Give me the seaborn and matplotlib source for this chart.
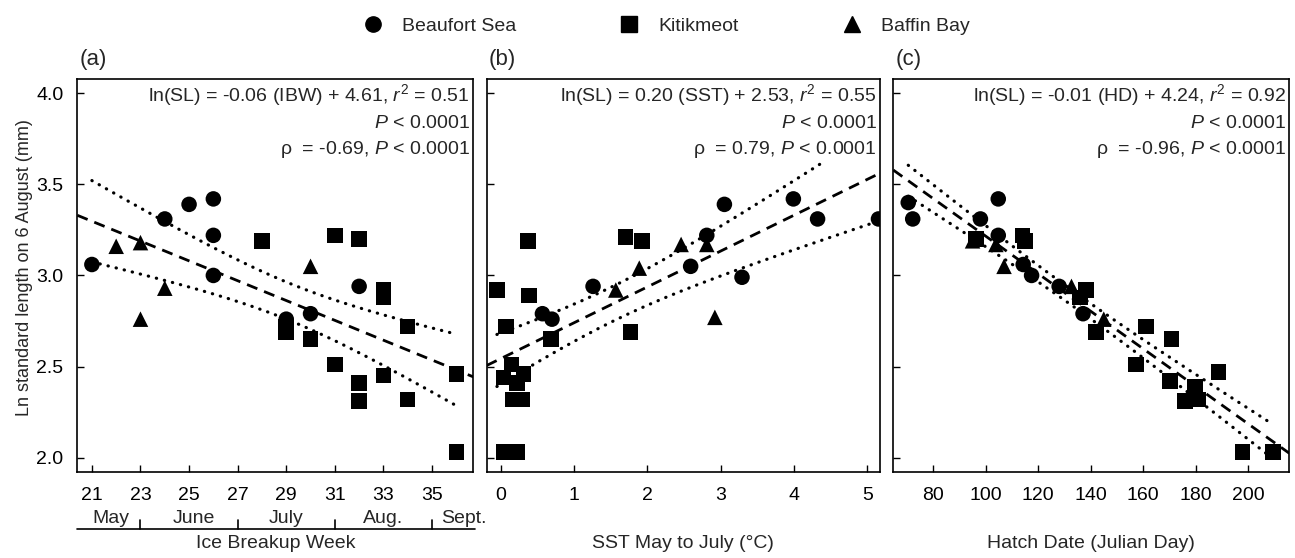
import numpy as np
import pandas as pd
import seaborn as sns
import matplotlib.pyplot as plt
import matplotlib.transforms as mtransforms
from matplotlib.lines import Line2D

# ---- data (ln standard length, mm) ----
# (a) ice breakup week
beaufort_ibw = [21, 24, 25, 26, 26, 26, 29, 30, 32]
beaufort_sl_a = [3.06, 3.31, 3.39, 3.42, 3.22, 3.00, 2.76, 2.79, 2.94]
kitikmeot_ibw = [28, 31, 32, 33, 33, 34, 29, 29, 30, 31, 32, 32, 33, 34, 36, 36]
kitikmeot_sl_a = [3.19, 3.22, 3.20, 2.92, 2.88, 2.72, 2.72, 2.69, 2.65, 2.51, 2.41, 2.31, 2.45, 2.32, 2.46, 2.03]
baffin_ibw = [22, 23, 24, 23, 30]
baffin_sl_a = [3.16, 3.18, 2.93, 2.76, 3.05]

# (b) SST May to July
beaufort_sst = [0.57, 0.70, 1.26, 2.59, 2.81, 3.05, 3.29, 3.99, 4.32, 5.15]
beaufort_sl_b = [2.79, 2.76, 2.94, 3.05, 3.22, 3.39, 2.99, 3.42, 3.31, 3.31]
kitikmeot_sst = [0.37, -0.05, 0.39, 0.07, 0.69, 1.70, 1.93, 1.77, 0.15, 0.04, 0.31, 0.22, 0.17, 0.29, 0.04, 0.23]
kitikmeot_sl_b = [3.19, 2.92, 2.89, 2.72, 2.65, 3.21, 3.19, 2.69, 2.51, 2.44, 2.46, 2.41, 2.32, 2.32, 2.03, 2.03]
baffin_sst = [1.57, 1.89, 2.46, 2.81, 2.92]
baffin_sl_b = [2.92, 3.04, 3.17, 3.17, 2.77]

# (c) hatch date
beaufort_hd = [70.5, 72.2, 98.0, 104.8, 104.8, 114.3, 117.5, 128.0, 137.1]
beaufort_sl_c = [3.40, 3.31, 3.31, 3.42, 3.22, 3.06, 3.00, 2.94, 2.79]
kitikmeot_hd = [96.3, 114.0, 115.0, 138.2, 136.0, 142.0, 161.0, 170.8, 157.2, 170.2, 179.7, 176.0, 181.0, 188.8, 197.9, 209.5]
kitikmeot_sl_c = [3.20, 3.22, 3.19, 2.92, 2.88, 2.69, 2.72, 2.65, 2.51, 2.42, 2.39, 2.31, 2.32, 2.47, 2.03, 2.03]
baffin_hd = [95.0, 103.9, 107.0, 132.7, 145.0]
baffin_sl_c = [3.19, 3.17, 3.05, 2.94, 2.76]

regions = ["Beaufort Sea", "Kitikmeot", "Baffin Bay"]
markers = {"Beaufort Sea": "o", "Kitikmeot": "s", "Baffin Bay": "^"}

stats_a = ["ln(SL) = -0.06 (IBW) + 4.61, $r^2$ = 0.51", "$P$ < 0.0001", "ρ  = -0.69, $P$ < 0.0001"]
stats_b = ["ln(SL) = 0.20 (SST) + 2.53, $r^2$ = 0.55", "$P$ < 0.0001", "ρ  = 0.79, $P$ < 0.0001"]
stats_c = ["ln(SL) = -0.01 (HD) + 4.24, $r^2$ = 0.92", "$P$ < 0.0001", "ρ  = -0.96, $P$ < 0.0001"]

months = ["May", "June", "July", "Aug.", "Sept."]
month_pos = [21.8, 25.2, 29.0, 33.0, 36.3]
month_breaks = [23, 27, 31, 35]


def make_df(bx, by, kx, ky, fx, fy):
    return pd.DataFrame({
        "x": bx + kx + fx,
        "y": by + ky + fy,
        "region": [regions[0]] * len(bx) + [regions[1]] * len(kx) + [regions[2]] * len(fx),
    })


df_a = make_df(beaufort_ibw, beaufort_sl_a, kitikmeot_ibw, kitikmeot_sl_a, baffin_ibw, baffin_sl_a)
df_b = make_df(beaufort_sst, beaufort_sl_b, kitikmeot_sst, kitikmeot_sl_b, baffin_sst, baffin_sl_b)
df_c = make_df(beaufort_hd, beaufort_sl_c, kitikmeot_hd, kitikmeot_sl_c, baffin_hd, baffin_sl_c)

sns.set_style("ticks")
plt.rcParams["font.family"] = ["Liberation Sans", "DejaVu Sans"]
plt.rcParams["mathtext.fontset"] = "custom"
plt.rcParams["mathtext.rm"] = "Liberation Sans"
plt.rcParams["mathtext.it"] = "Liberation Sans:italic"

FS = 14
fig = plt.figure(figsize=(12.95, 5.58), dpi=100)
ax_a = fig.add_axes([0.0597, 0.1547, 0.3058, 0.7037])
ax_b = fig.add_axes([0.3758, 0.1547, 0.3037, 0.7037])
ax_c = fig.add_axes([0.6898, 0.1547, 0.3058, 0.7037])


def fit_lines(ax, df, xlim, up_end=None):
    x = df["x"].to_numpy(float)
    y = df["y"].to_numpy(float)
    n = len(x)
    b, a = np.polyfit(x, y, 1)
    resid = y - (a + b * x)
    s = np.sqrt(np.sum(resid ** 2) / (n - 2))
    sxx = np.sum((x - x.mean()) ** 2)
    t = 2.03
    xf = np.linspace(xlim[0], xlim[1], 200)
    ax.plot(xf, a + b * xf, color="black", lw=2.0, ls=(0, (4, 2.6)), zorder=2)
    xd = np.linspace(x.min(), x.max(), 200)
    half = t * s * np.sqrt(1 / n + (xd - x.mean()) ** 2 / sxx)
    up = a + b * xd + half
    lo = a + b * xd - half
    keep = xd <= (up_end if up_end is not None else xd.max())
    dot = dict(color="black", lw=2.3, ls=(0, (0.1, 2.5)), dash_capstyle="round", zorder=2)
    ax.plot(xd[keep], up[keep], **dot)
    ax.plot(xd, lo, **dot)


panels = [
    (ax_a, df_a, (20.4, 36.7), [21, 23, 25, 27, 29, 31, 33, 35], "Ice Breakup Week", stats_a, "(a)", None),
    (ax_b, df_b, (-0.19, 5.17), [0, 1, 2, 3, 4, 5], "SST May to July (°C)", stats_b, "(b)", 4.4),
    (ax_c, df_c, (64.8, 215.7), [80, 100, 120, 140, 160, 180, 200], "Hatch Date (Julian Day)", stats_c, "(c)", None),
]

for ax, df, xlim, xticks, xlabel, stats, tag, up_end in panels:
    fit_lines(ax, df, xlim, up_end)
    sns.scatterplot(data=df, x="x", y="y", style="region", markers=markers,
                    style_order=regions, color="black", s=125, linewidth=0,
                    legend=False, ax=ax, zorder=3)
    ax.set_xlim(*xlim)
    ax.set_ylim(1.923, 4.078)
    ax.set_xticks(xticks)
    ax.set_yticks([2.0, 2.5, 3.0, 3.5, 4.0])
    ax.tick_params(direction="in", length=5, width=1.0, labelsize=FS, pad=11, colors="black")
    ax.tick_params(axis="y", pad=10)
    for sp in ax.spines.values():
        sp.set_linewidth(1.2)
        sp.set_color("black")
    ax.set_xlabel(xlabel, fontsize=FS, va="top")
    ax.xaxis.set_label_coords(0.5, -0.162)
    ax.set_ylabel("")
    for yb, line in zip([0.944, 0.876, 0.809], stats):
        ax.text(0.992, yb, line, transform=ax.transAxes, ha="right", va="baseline", fontsize=FS)
    ax.text(0.005, 1.022, tag, transform=ax.transAxes, ha="left", va="bottom", fontsize=16)

ax_a.set_yticklabels(["2.0", "2.5", "3.0", "3.5", "4.0"])
ax_b.set_yticklabels([])
ax_c.set_yticklabels([])
ax_a.set_ylabel("Ln standard length on 6 August (mm)", fontsize=13)
ax_a.yaxis.set_label_coords(-0.112, 0.52)

# month row under panel (a)
trans = mtransforms.blended_transform_factory(ax_a.transData, ax_a.transAxes)
for m, p in zip(months, month_pos):
    ax_a.text(p, -0.118, m, transform=trans, ha="center", va="center", fontsize=FS, clip_on=False)
ax_a.plot([20.4, 36.75], [-0.146, -0.146], transform=trans, color="black", lw=1.2, clip_on=False)
for wk in month_breaks:
    ax_a.plot([wk, wk], [-0.146, -0.122], transform=trans, color="black", lw=1.2, clip_on=False)

handles = [Line2D([], [], marker=markers[r], color="black", ls="none", markersize=11) for r in regions]
fig.legend(handles, regions, loc="upper center", bbox_to_anchor=(0.511, 1.0), ncol=3,
           frameon=False, fontsize=FS, columnspacing=4.8, handletextpad=0.5)

fig.savefig("out.png", dpi=100)
